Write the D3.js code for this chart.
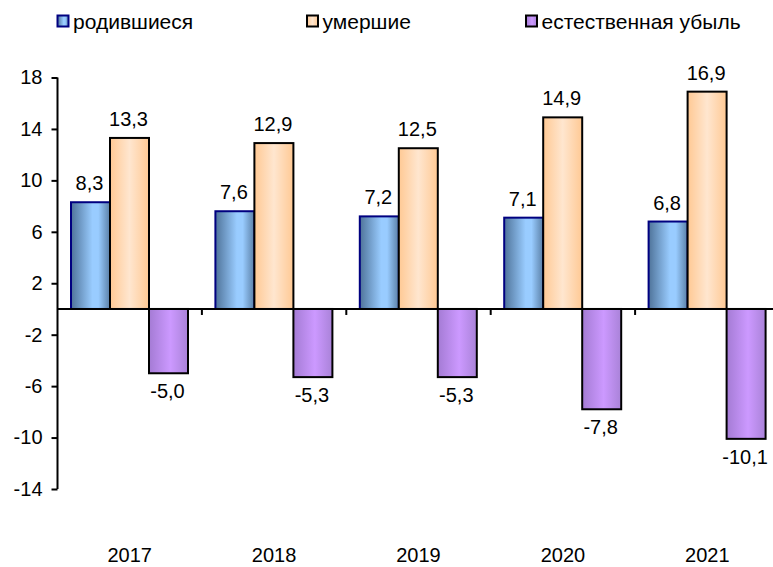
<!DOCTYPE html>
<html>
<head>
<meta charset="utf-8">
<script src="https://cdn.jsdelivr.net/npm/d3@7"></script>
<style>
  body { margin: 0; background: #fff; }
  text { font-family: "Liberation Sans", Arial, sans-serif; font-size: 20px; fill: #000; }
</style>
</head>
<body>
<script>
var years  = ['2017', '2018', '2019', '2020', '2021'];
var births = [8.3, 7.6, 7.2, 7.1, 6.8];
var deaths = [13.3, 12.9, 12.5, 14.9, 16.9];
var decline = [-5.0, -5.3, -5.3, -7.8, -10.1];
var seriesNames = ['родившиеся', 'умершие', 'естественная убыль'];
var yTicks = [18, 14, 10, 6, 2, -2, -6, -10, -14];

var WIDTH  = 773;
var HEIGHT = 567;

var svg = d3.select('body')
            .append('svg')
            .attr('width', WIDTH)
            .attr('height', HEIGHT);

var series = [
  { name: seriesNames[0], values: births,  grad: 'gBlue',   stroke: '#000080' },
  { name: seriesNames[1], values: deaths,  grad: 'gOrange', stroke: '#000' },
  { name: seriesNames[2], values: decline, grad: 'gPurple', stroke: '#000' }
];

// gradients like the office chart fill
var defs = svg.append('defs');
function gradient(id, stops) {
  var g = defs.append('linearGradient').attr('id', id)
              .attr('x1', '0%').attr('x2', '100%').attr('y1', '0%').attr('y2', '0%');
  stops.forEach(function(s) {
    g.append('stop').attr('offset', s[0]).attr('stop-color', s[1]);
  });
}
gradient('gBlue',   [[0, '#4f7399'], [0.55, '#99ccff'], [0.7, '#99ccff'], [1, '#5a7fa6']]);
gradient('gOrange', [[0, '#ffc994'], [0.5, '#ffe6cf'], [1, '#ffc994']]);
gradient('gPurple', [[0, '#a47bd4'], [0.55, '#cc99ff'], [1, '#a982d8']]);

var y = d3.scaleLinear()
          .domain([-14, 18])
          .range([489, 77.5]);

var x = d3.scaleBand()
          .domain(years)
          .range([57.5, 57.5 + 5 * 144.4]);

var xInner = d3.scaleBand()
               .domain(seriesNames)
               .range([13.5, 130.5]);

function fmt(v) { return v.toFixed(1).replace('.', ','); }

// y axis
var yAxis = svg.append('g')
               .attr('transform', 'translate(57.5,0)')
               .call(d3.axisLeft(y).tickValues(yTicks).tickSize(6).tickPadding(9).tickFormat(function(d) { return d; }));
yAxis.attr('font-size', null).attr('font-family', null);
yAxis.select('.domain').attr('stroke', '#000').attr('stroke-width', 2).attr('d', 'M0,' + y(18) + 'V' + y(-14));
yAxis.selectAll('.tick line').attr('stroke', '#000').attr('stroke-width', 2);

// bars
years.forEach(function(yr, i) {
  series.forEach(function(s) {
    var v = s.values[i];
    var bx = x(yr) + xInner(s.name);
    svg.append('rect')
       .attr('x', bx)
       .attr('y', v >= 0 ? y(v) : y(0))
       .attr('width', xInner.bandwidth())
       .attr('height', Math.abs(y(v) - y(0)))
       .attr('fill', 'url(#' + s.grad + ')')
       .attr('stroke', s.stroke)
       .attr('stroke-width', 2);
    svg.append('text')
       .attr('x', bx + xInner.bandwidth() / 2 - 1)
       .attr('y', v >= 0 ? y(v) - 12 : y(v) + 25)
       .attr('text-anchor', 'middle')
       .text(fmt(v));
  });
});

// zero line and category ticks
svg.append('line')
   .attr('x1', 57.5).attr('x2', WIDTH)
   .attr('y1', y(0)).attr('y2', y(0))
   .attr('stroke', '#000').attr('stroke-width', 2);

years.slice(1).forEach(function(yr) {
  svg.append('line')
     .attr('x1', x(yr)).attr('x2', x(yr))
     .attr('y1', y(0)).attr('y2', y(0) + 6)
     .attr('stroke', '#000').attr('stroke-width', 2);
});

svg.selectAll('.year')
   .data(years)
   .enter()
 .append('text')
   .attr('class', 'year')
   .attr('x', function(d) { return x(d) + x.bandwidth() / 2; })
   .attr('y', 562)
   .attr('text-anchor', 'middle')
   .text(function(d) { return d; });

// legend
var legendX = [57.5, 307, 526];
series.forEach(function(s, i) {
  svg.append('rect')
     .attr('x', legendX[i]).attr('y', 15.5)
     .attr('width', 11).attr('height', 11)
     .attr('fill', 'url(#' + s.grad + ')')
     .attr('stroke', s.stroke)
     .attr('stroke-width', 2);
  svg.append('text')
     .attr('x', legendX[i] + 15.5)
     .attr('y', 28.5)
     .style('font-size', '21px')
     .text(s.name);
});
</script>
</body>
</html>
